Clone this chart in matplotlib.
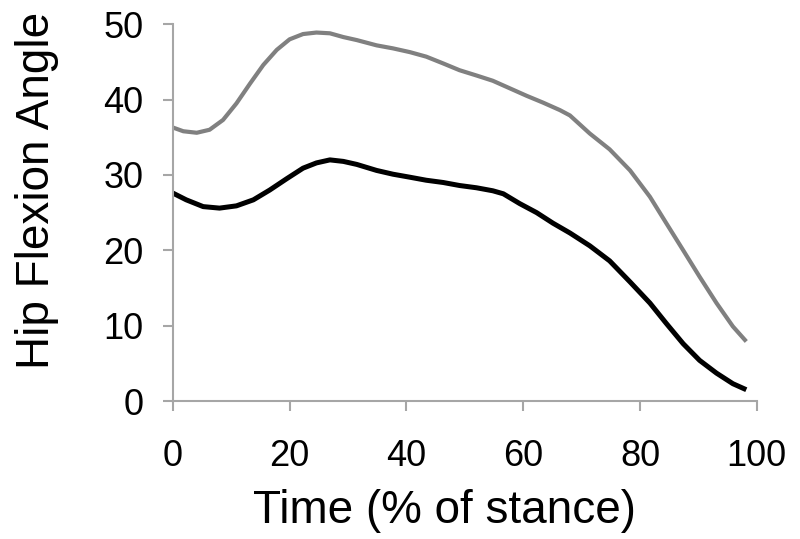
import numpy as np
import matplotlib.pyplot as plt

plt.rcParams['font.family'] = ['Liberation Sans', 'DejaVu Sans']

# Hip flexion angle over stance
t_upper = [0, 1.8, 4.1, 6.3, 8.6, 10.9, 13.2, 15.5, 17.8, 20.0, 22.3, 24.6,
           26.9, 29.2, 31.5, 34.9, 37.7, 40.6, 43.4, 46.3, 49.1, 52.0, 54.8,
           57.7, 60.6, 63.4, 66.3, 68.0, 71.4, 74.8, 78.3, 81.7, 84.5, 87.4,
           90.2, 93.1, 95.9, 98.2]
hip_upper = [36.3, 35.8, 35.6, 36.0, 37.3, 39.5, 42.1, 44.6, 46.6, 48.0, 48.7,
             48.9, 48.8, 48.3, 47.9, 47.2, 46.8, 46.3, 45.7, 44.8, 43.9, 43.2,
             42.5, 41.5, 40.5, 39.6, 38.6, 37.9, 35.5, 33.4, 30.6, 27.1, 23.6,
             20.0, 16.5, 13.0, 9.9, 7.9]

t_lower = [0, 2.3, 5.2, 8.0, 10.9, 13.8, 16.6, 19.5, 22.3, 24.6, 26.9, 29.2,
           31.5, 34.9, 37.7, 40.6, 43.4, 46.3, 49.1, 52.0, 54.8, 56.6, 59.4,
           62.3, 65.1, 68.0, 71.4, 74.8, 78.3, 81.7, 84.5, 87.4, 90.2, 93.1,
           95.9, 98.2]
hip_lower = [27.6, 26.7, 25.8, 25.6, 25.9, 26.7, 28.0, 29.5, 30.9, 31.6, 32.0,
             31.8, 31.4, 30.6, 30.1, 29.7, 29.3, 29.0, 28.6, 28.3, 27.9, 27.5,
             26.2, 25.0, 23.6, 22.3, 20.6, 18.6, 15.8, 13.0, 10.3, 7.6, 5.4,
             3.7, 2.3, 1.5]

fig = plt.figure(figsize=(8, 5.39), dpi=100)
ax = fig.add_axes([0.216, 0.256, 0.73, 0.699])

ax.plot(t_upper, hip_upper, color="#808080", lw=3.0, solid_capstyle="butt")
ax.plot(t_lower, hip_lower, color="black", lw=3.6, solid_capstyle="butt")

ax.set_xlim(0, 100)
ax.set_ylim(0, 50)
ax.set_xticks(range(0, 101, 20))
ax.set_yticks(range(0, 51, 10))

for side in ["top", "right"]:
    ax.spines[side].set_visible(False)
for side in ["left", "bottom"]:
    ax.spines[side].set_color("#a6a6a6")
    ax.spines[side].set_linewidth(1.5)

ax.tick_params(axis="both", direction="out", length=7, width=1.5,
               color="#a6a6a6", labelsize=26)
ax.tick_params(axis="x", pad=20)
ax.tick_params(axis="y", pad=14)

ax.set_xlabel("Time (% of stance)", fontsize=33, labelpad=11)
ax.xaxis.label.set_x(0.466)
ax.set_ylabel("Hip Flexion Angle", fontsize=33, labelpad=32)
ax.yaxis.label.set_y(0.56)

fig.savefig("out.png", dpi=100)
